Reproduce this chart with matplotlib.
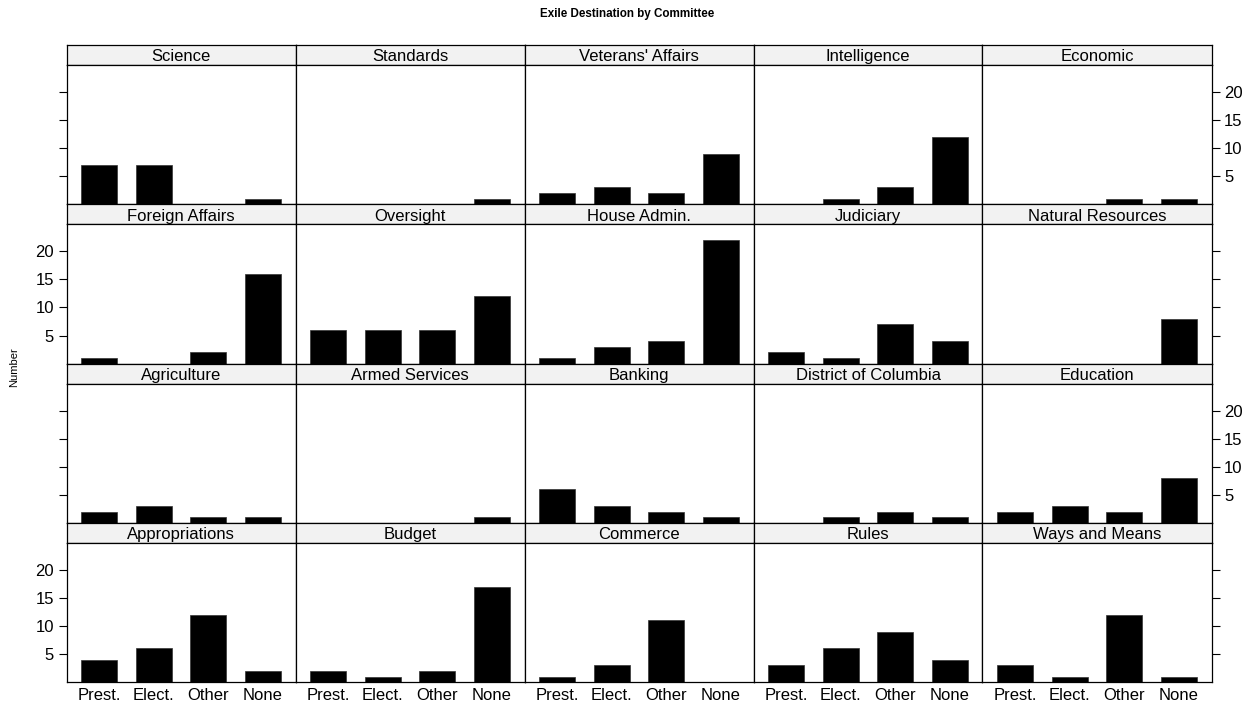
import numpy as np
import matplotlib
matplotlib.use("Agg")
from matplotlib import pyplot as plt

plt.rcParams['font.family'] = ['Liberation Sans', 'DejaVu Sans']

# panels in reading order, top-left to bottom-right
committees = [
    "Science", "Standards", "Veterans' Affairs", "Intelligence", "Economic",
    "Foreign Affairs", "Oversight", "House Admin.", "Judiciary", "Natural Resources",
    "Agriculture", "Armed Services", "Banking", "District of Columbia", "Education",
    "Appropriations", "Budget", "Commerce", "Rules", "Ways and Means",
]
destinations = ["Prest.", "Elect.", "Other", "None"]

prest = [7, 0, 2, 0, 0,  1, 6, 1, 2, 0,  2, 0, 6, 0, 2,  4, 2, 1, 3, 3]
elect = [7, 0, 3, 1, 0,  0, 6, 3, 1, 0,  3, 0, 3, 1, 3,  6, 1, 3, 6, 1]
other = [0, 0, 2, 3, 1,  2, 6, 4, 7, 0,  1, 0, 2, 2, 2,  12, 2, 11, 9, 12]
none_ = [1, 1, 9, 12, 1, 16, 12, 22, 4, 8, 1, 1, 1, 1, 8,  2, 17, 0, 4, 1]

yticks = [5, 10, 15, 20]

W, H = 1254, 707
fig = plt.figure(figsize=(W / 100, H / 100), dpi=100)

left, top = 66.5, 45.0
col_w, row_h, strip_h = 229.0, 159.3, 20.0
nrow, ncol = 4, 5
fs = 12

counts = np.array([prest, elect, other, none_]).T
xpos = np.arange(1, len(destinations) + 1)

for i, name in enumerate(committees):
    r, c = divmod(i, ncol)
    x0 = left + c * col_w
    y_strip = top + r * row_h
    y_panel = y_strip + strip_h
    ph = row_h - strip_h

    # strip with committee name
    sax = fig.add_axes([x0 / W, 1 - (y_strip + strip_h) / H, col_w / W, strip_h / H])
    sax.set_facecolor('#f2f2f2')
    sax.set_xticks([])
    sax.set_yticks([])
    for sp in sax.spines.values():
        sp.set_linewidth(0.9)
    sax.text(0.5, 0.18, name, ha='center', va='baseline', fontsize=fs,
             transform=sax.transAxes)

    ax = fig.add_axes([x0 / W, 1 - (y_panel + ph) / H, col_w / W, ph / H])
    ax.bar(xpos, counts[i], width=2 / 3, color='black', edgecolor='#333333', linewidth=0.5)
    ax.set_xlim(0.4, 4.6)
    ax.set_ylim(0, 24.8)
    for sp in ax.spines.values():
        sp.set_linewidth(0.9)

    # x labels only along the bottom row
    ax.set_xticks(xpos)
    ax.tick_params(axis='x', length=0, labelsize=fs, pad=4)
    if r == nrow - 1:
        ax.set_xticklabels(destinations)
    else:
        ax.set_xticklabels([])

    # alternating y axis: labels left on rows 2 and 4, right on rows 1 and 3
    ax.set_yticks(yticks)
    ax.tick_params(axis='y', direction='out', length=6, width=0.8, labelsize=fs, pad=3,
                   left=False, right=False, labelleft=False, labelright=False)
    if c == 0:
        ax.tick_params(axis='y', left=True, labelleft=(r % 2 == 1))
    if c == ncol - 1:
        ax.tick_params(axis='y', right=True, labelright=(r % 2 == 0))

fig.text(627 / W, 1 - 14 / H, "Exile Destination by Committee", ha='center', va='center',
         fontsize=8.4, fontweight='bold')
fig.text(14 / W, 1 - 367 / H, "Number", ha='center', va='center', rotation=90, fontsize=8)

fig.savefig("out.png", dpi=100)
